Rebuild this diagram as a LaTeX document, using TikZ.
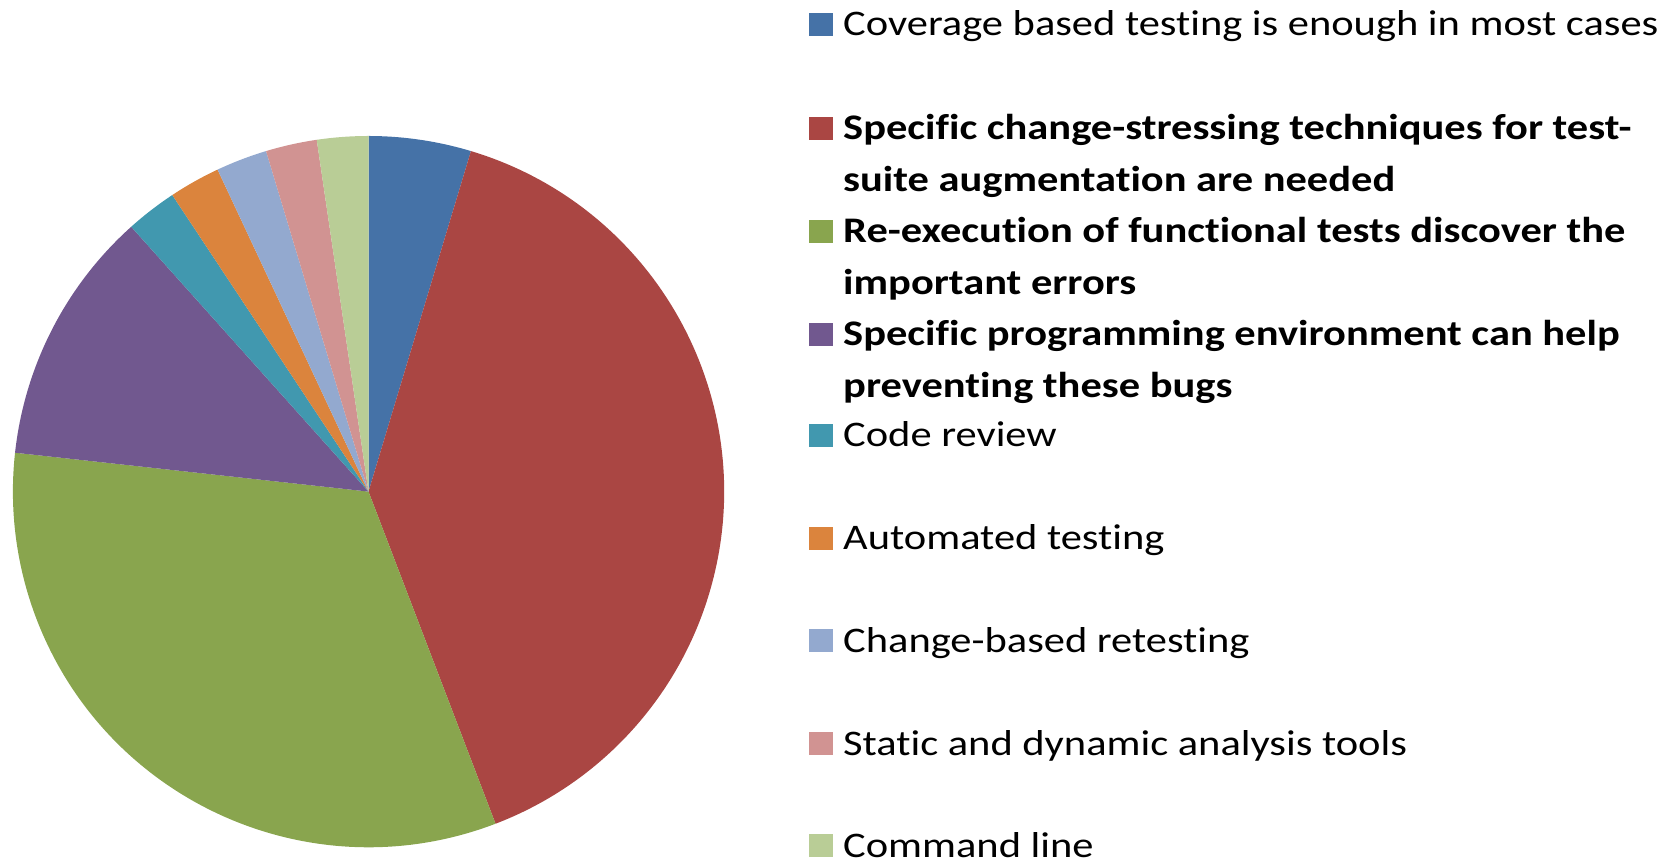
\documentclass[tikz,border=0pt]{standalone}
\usepackage{fontspec}
\setmainfont{Carlito}[FakeStretch=1.18,Ligatures=NoCommon]
\definecolor{cBlue}{HTML}{4572A7}
\definecolor{cRed}{HTML}{AA4643}
\definecolor{cGreen}{HTML}{89A54E}
\definecolor{cPurple}{HTML}{71588F}
\definecolor{cTeal}{HTML}{4198AF}
\definecolor{cOrange}{HTML}{DB843D}
\definecolor{cLBlue}{HTML}{93A9CF}
\definecolor{cPink}{HTML}{D19392}
\definecolor{cLGreen}{HTML}{B9CD96}
\begin{document}
\begin{tikzpicture}[x=1pt,y=1pt,
  legtext/.style={anchor=base west,inner sep=0pt,align=left,
    font=\fontsize{36}{52}\selectfont},
  legbold/.style={legtext,font=\fontsize{36}{52}\selectfont\bfseries},
  legkey/.style={anchor=south west,inner sep=0pt,minimum width=24pt,minimum height=23pt}]
\useasboundingbox (0,0) rectangle (1680,862);
\coordinate (c) at (368.5,370.4);
\def\R{355.6}
% pie slices, clockwise from the top
\fill[cBlue]   (c) -- ++(90:\R)      arc[start angle=90,      end angle=73.256,   radius=\R] -- cycle;
\fill[cRed]    (c) -- ++(73.256:\R)  arc[start angle=73.256,  end angle=-69.070,  radius=\R] -- cycle;
\fill[cGreen]  (c) -- ++(-69.070:\R) arc[start angle=-69.070, end angle=-186.279, radius=\R] -- cycle;
\fill[cPurple] (c) -- ++(-186.279:\R) arc[start angle=-186.279,end angle=-228.140, radius=\R] -- cycle;
\fill[cTeal]   (c) -- ++(-228.140:\R) arc[start angle=-228.140,end angle=-236.512, radius=\R] -- cycle;
\fill[cOrange] (c) -- ++(-236.512:\R) arc[start angle=-236.512,end angle=-244.884, radius=\R] -- cycle;
\fill[cLBlue]  (c) -- ++(-244.884:\R) arc[start angle=-244.884,end angle=-253.256, radius=\R] -- cycle;
\fill[cPink]   (c) -- ++(-253.256:\R) arc[start angle=-253.256,end angle=-261.628, radius=\R] -- cycle;
\fill[cLGreen] (c) -- ++(-261.628:\R) arc[start angle=-261.628,end angle=-270,     radius=\R] -- cycle;
% legend (multi-line entries are placed by the baseline of their last line)
\node[legkey,fill=cBlue]   (k1) at (809,826) {};
\node[legtext]  (t1) at (843,826) {Coverage based testing is enough in most cases};
\node[legkey,fill=cRed]    (k2) at (809,722) {};
\node[legbold]  (t2) at (843,670) {Specific change-stressing techniques for test-\\suite augmentation are needed};
\node[legkey,fill=cGreen]  (k3) at (809,619) {};
\node[legbold]  (t3) at (843,567) {Re-execution of functional tests discover the\\important errors};
\node[legkey,fill=cPurple] (k4) at (809,516) {};
\node[legbold]  (t4) at (843,464.5) {Specific programming environment can help\\preventing these bugs};
\node[legkey,fill=cTeal]   (k5) at (809,415) {};
\node[legtext]  (t5) at (843,415) {Code review};
\node[legkey,fill=cOrange] (k6) at (809,312) {};
\node[legtext]  (t6) at (843,312) {Automated testing};
\node[legkey,fill=cLBlue]  (k7) at (809,209.5) {};
\node[legtext]  (t7) at (843,209.5) {Change-based retesting};
\node[legkey,fill=cPink]   (k8) at (809,107) {};
\node[legtext]  (t8) at (843,107) {Static and dynamic analysis tools};
\node[legkey,fill=cLGreen] (k9) at (809,5) {};
\node[legtext]  (t9) at (843,5) {Command line};
\end{tikzpicture}
\end{document}
